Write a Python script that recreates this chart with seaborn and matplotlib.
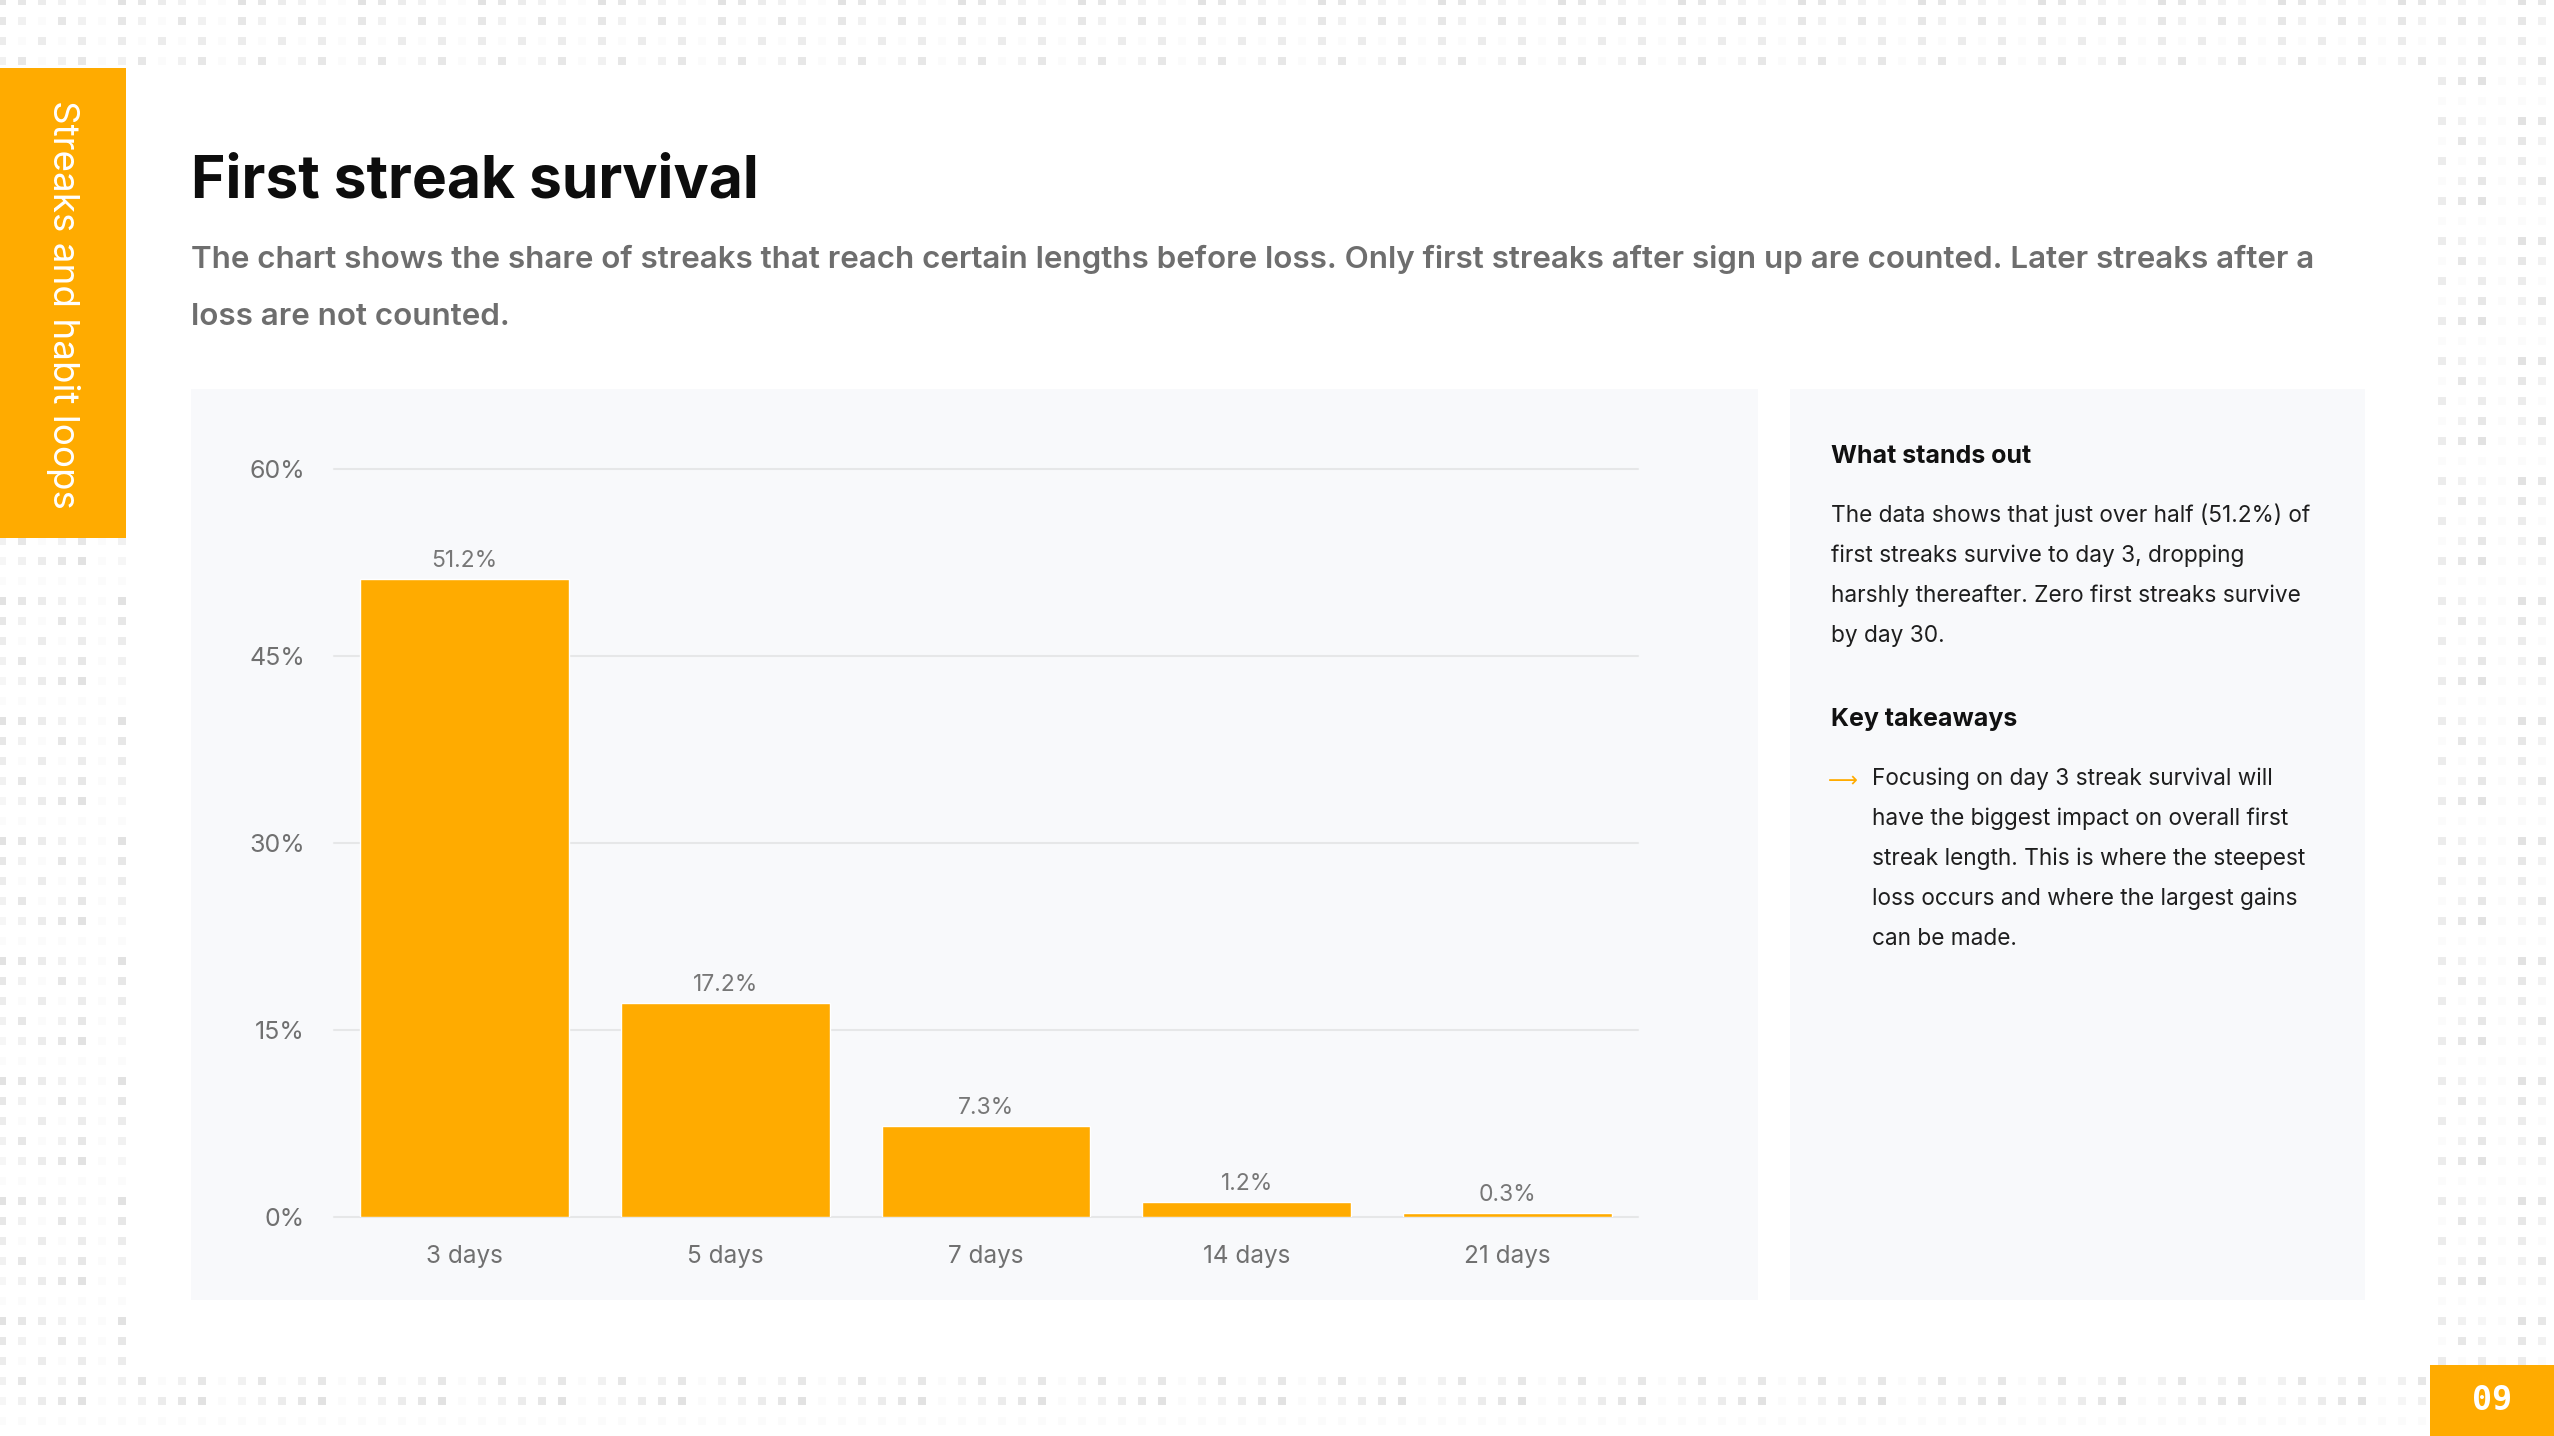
import matplotlib
matplotlib.use("Agg")
import matplotlib.pyplot as plt
from matplotlib.patches import Rectangle
import numpy as np
import seaborn as sns

# canvas in pixels
W, H = 2554, 1436
DPI = 100

ORANGE = "#FFAB00"
PANEL = "#F8F9FB"
GRID = "#E6E7E8"
TICK_GRAY = "#707070"

# data
streak_lengths = ["3 days", "5 days", "7 days", "14 days", "21 days"]
survival_pct = [51.2, 17.2, 7.3, 1.2, 0.3]
y_ticks = [0, 15, 30, 45, 60]
y_tick_labels = ["0%", "15%", "30%", "45%", "60%"]

# text
section_label = "Streaks and habit loops"
page_number = "09"
title = "First streak survival"
subtitle_lines = [
    "The chart shows the share of streaks that reach certain lengths before loss. "
    "Only first streaks after sign up are counted. Later streaks after a",
    "loss are not counted.",
]
stands_out_title = "What stands out"
stands_out_lines = [
    "The data shows that just over half (51.2%) of",
    "first streaks survive to day 3, dropping",
    "harshly thereafter. Zero first streaks survive",
    "by day 30.",
]
takeaways_title = "Key takeaways"
takeaway_lines = [
    "Focusing on day 3 streak survival will",
    "have the biggest impact on overall first",
    "streak length. This is where the steepest",
    "loss occurs and where the largest gains",
    "can be made.",
]

sns.set_theme(style="white")
plt.rcParams["font.family"] = ["Inter", "DejaVu Sans"]

fig = plt.figure(figsize=(W / DPI, H / DPI), dpi=DPI)
fig.patch.set_facecolor("white")

# background layer in pixel coordinates (y grows downwards)
bg = fig.add_axes([0, 0, 1, 1], zorder=0)
bg.set_xlim(0, W)
bg.set_ylim(H, 0)
bg.axis("off")

# decorative dot border
gx, gy = np.meshgrid(np.arange(0, W, 20) + 2, np.arange(0, H, 20) + 1)
border = (gy <= 62) | (gy >= 1380) | (gx <= 124) | (gx >= 2440)
shade = ((gx // 20) * 7 + (gy // 20) * 13 + (gx // 20) * (gy // 20)) % 6
greys = np.array(["#E2E2E2", "#E7E7E7", "#ECECEC", "#F1F1F1", "#F6F6F6", "#FBFBFB"])
bg.scatter(gx[border], gy[border], s=33, marker="s", c=greys[shade[border]],
           linewidths=0, zorder=0)

# panels and tabs
bg.add_patch(Rectangle((191, 389), 1567, 911, color=PANEL, lw=0, zorder=1))
bg.add_patch(Rectangle((1790, 389), 575, 911, color=PANEL, lw=0, zorder=1))
bg.add_patch(Rectangle((0, 68), 126, 470, color=ORANGE, lw=0, zorder=2))
bg.add_patch(Rectangle((2430, 1365), 124, 71, color=ORANGE, lw=0, zorder=2))

bg.text(63, 100, section_label, rotation=270, color="white", fontsize=26.5,
        ha="center", va="top", zorder=3)
bg.text(2492, 1401, page_number, family="DejaVu Sans Mono", weight="bold",
        color="white", fontsize=24, ha="center", va="center", zorder=3)

# headline
bg.text(191, 198, title, fontsize=42.3, weight="bold", color="#0D0D0D", va="baseline")
for i, line in enumerate(subtitle_lines):
    bg.text(191, 268 + 57 * i, line, fontsize=22.6, weight="semibold",
            color="#6E6E6E", va="baseline")

# side notes
bg.text(1831, 463, stands_out_title, fontsize=18, weight="bold", color="#111111",
        va="baseline")
for i, line in enumerate(stands_out_lines):
    bg.text(1831, 522 + 40 * i, line, fontsize=16.3, color="#1E1E1E", va="baseline")
bg.text(1831, 726, takeaways_title, fontsize=18, weight="bold", color="#111111",
        va="baseline")
bg.text(1828, 781, "\u27f6", family="DejaVu Sans", fontsize=15, color=ORANGE,
        va="center", ha="left")
for i, line in enumerate(takeaway_lines):
    bg.text(1872, 785 + 40 * i, line, fontsize=16.3, color="#1E1E1E", va="baseline")

# bar chart
ax = fig.add_axes([334 / W, 1 - 1217 / H, (1638 - 334) / W, (1217 - 469) / H], zorder=1)
ax.set_facecolor("none")
sns.barplot(x=streak_lengths, y=survival_pct, color=ORANGE, saturation=1,
            width=0.8, ax=ax)
ax.set_xlim(-0.5, 4.5)
ax.set_ylim(0, 60)
ax.set_yticks(y_ticks, y_tick_labels)
ax.grid(axis="y", color=GRID, linewidth=1.5)
ax.set_axisbelow(True)
for line in ax.get_ygridlines():
    line.set_clip_on(False)
sns.despine(ax=ax, left=True, bottom=True)
ax.set_xlabel("")
ax.set_ylabel("")
ax.tick_params(axis="y", length=0, pad=21, labelsize=18, labelcolor=TICK_GRAY)
ax.tick_params(axis="x", length=0, pad=20, labelsize=17.5, labelcolor=TICK_GRAY)
ax.bar_label(ax.containers[0], labels=[f"{v}%" for v in survival_pct],
             padding=5, fontsize=16.5, color="#777777")

fig.savefig("out.png", dpi=DPI, facecolor="white")
